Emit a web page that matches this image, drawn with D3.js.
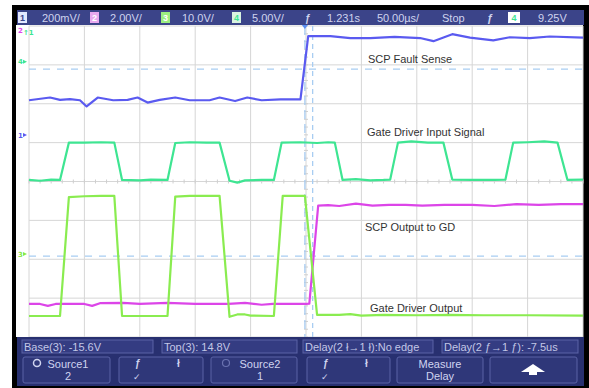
<!DOCTYPE html>
<html><head><meta charset="utf-8">
<script src="https://cdn.jsdelivr.net/npm/d3@7"></script>
<style>body{margin:0;background:#fff}svg{display:block}</style>
</head><body>
<script>
// time in µs (50 µs/div, trigger at centre), amplitude in screen divisions
const timeDomain = [-250, 250];
const divDomain = [-4, 4];
const timeTicks = d3.range(-250, 251, 50);
const divTicks = d3.range(-4, 5, 1);

const ch1FaultSense = [[-250,2.09],[-231,2.16],[-222,2.1],[-213,2.12],[-204,2.09],[-198,1.93],[-188,2.16],[-174,2.09],[-161,2.1],[-152,2.16],[-143,2.03],[-132,2.1],[-118,2.16],[-105,2.09],[-87,2.09],[-78,2.16],[-64,2.07],[-53,2.16],[-40,2.09],[-23,2.11],[-5,2.11],[2,3.74],[22,3.74],[40,3.69],[58,3.69],[80,3.72],[103,3.69],[115,3.61],[132,3.79],[148,3.7],[169,3.63],[184,3.71],[202,3.69],[220,3.73],[250,3.7]];
const ch4GateInput = [[-250,0.04],[-240,0.02],[-230,0.05],[-222,0.04],[-214,1.0],[-200,1.0],[-185,1.01],[-173,1.0],[-166,0.04],[-150,0.03],[-140,0.05],[-125,0.04],[-118,0.99],[-105,1.01],[-90,1.0],[-78,1.0],[-69,0.02],[-62,-0.03],[-55,0.03],[-40,0.04],[-29,0.04],[-22,1.0],[-5,1.01],[10,0.99],[20,1.01],[26,1.0],[33,0.04],[45,0.06],[58,0.03],[70,0.04],[76,0.05],[83,1.0],[95,1.03],[110,1.0],[124,1.0],[132,0.05],[150,0.04],[170,0.04],[180,0.05],[187,1.0],[200,1.01],[215,1.03],[227,1.0],[236,0.04],[250,0.05]];
const ch3GateOutput = [[-250,-3.46],[-222,-3.46],[-214,-0.4],[-200,-0.38],[-185,-0.37],[-173,-0.37],[-166,-3.46],[-140,-3.46],[-125,-3.46],[-118,-0.39],[-105,-0.37],[-90,-0.37],[-78,-0.37],[-69,-3.48],[-62,-3.42],[-55,-3.42],[-50,-3.45],[-29,-3.46],[-21,-0.37],[-10,-0.37],[-1,-0.37],[10,-3.43],[30,-3.43],[40,-3.41],[50,-3.45],[70,-3.43],[100,-3.44],[130,-3.43],[160,-3.44],[200,-3.44],[250,-3.45]];
const ch2ScpOutput = [[-250,-3.15],[-240,-3.15],[-233,-3.2],[-226,-3.15],[-200,-3.15],[-193,-3.2],[-186,-3.13],[-165,-3.12],[-150,-3.15],[-125,-3.12],[-100,-3.15],[-70,-3.15],[-55,-3.12],[-40,-3.17],[-30,-3.15],[0,-3.15],[3,-3.14],[11,-0.62],[20,-0.61],[30,-0.63],[45,-0.57],[60,-0.62],[75,-0.6],[90,-0.6],[105,-0.62],[125,-0.6],[150,-0.6],[170,-0.63],[190,-0.58],[210,-0.6],[230,-0.58],[250,-0.58]];
const refLevels = [2.89, -1.92];
const cursorTimes = [-1, 6];

const traceLabels = ["SCP Fault Sense","Gate Driver Input Signal","SCP Output to GD","Gate Driver Output"];
const headerTexts = ["200mV/","2.00V/","10.0V/","5.00V/","1.231s","50.00µs/","Stop","9.25V"];
const measureTexts = ["Base(3): -15.6V","Top(3): 14.8V","Delay(2 ł→1 ł):No edge","Delay(2 ƒ→1 ƒ): -7.5us"];

const W = 589, H = 388;
const svg = d3.select("body").append("svg").attr("width", W).attr("height", H);
const x = d3.scaleLinear().domain(timeDomain).range([29, 583]);
const y = d3.scaleLinear().domain(divDomain).range([337, 26]);

// frame
svg.append("rect").attr("x",12).attr("y",5).attr("width",577).attr("height",383).attr("fill","#000");
svg.append("rect").attr("x",16).attr("y",25).attr("width",567).attr("height",312).attr("fill","#fff");

// grid
const g = svg.append("g");
g.selectAll(".vg").data(timeTicks).join("line")
 .attr("x1",d=>x(d)).attr("x2",d=>x(d)).attr("y1",y(4)).attr("y2",y(-4))
 .attr("stroke","#d6d6d6").attr("stroke-width",1);
g.selectAll(".hg").data(divTicks).join("line")
 .attr("x1",x(-250)).attr("x2",x(250)).attr("y1",d=>y(d)).attr("y2",d=>y(d))
 .attr("stroke","#d6d6d6").attr("stroke-width",1);
const minorT = d3.range(-250, 250.1, 10);
g.selectAll(".mt").data(minorT).join("line")
 .attr("x1",d=>x(d)).attr("x2",d=>x(d)).attr("y1",y(0)-2).attr("y2",y(0)+2)
 .attr("stroke","#cfcfcf");
const minorD = d3.range(-4, 4.01, 0.2);
g.selectAll(".md").data(minorD).join("line")
 .attr("x1",x(0)-2).attr("x2",x(0)+2).attr("y1",d=>y(d)).attr("y2",d=>y(d))
 .attr("stroke","#cfcfcf");

// reference dashed lines
g.selectAll(".rl").data(refLevels).join("line")
 .attr("x1",x(-250)).attr("x2",x(250)).attr("y1",d=>y(d)).attr("y2",d=>y(d))
 .attr("stroke","#a8cdf2").attr("stroke-width",1.3).attr("stroke-dasharray","7,7");
g.selectAll(".cl").data(cursorTimes).join("line")
 .attr("x1",d=>x(d)).attr("x2",d=>x(d)).attr("y1",y(4)).attr("y2",y(-4))
 .attr("stroke","#a8cdf2").attr("stroke-width",1.3).attr("stroke-dasharray",(d,i)=>i?"5,4":"9,5");

// traces
const line = d3.line().x(d=>x(d[0])).y(d=>y(d[1]));
const traces = [
  {data:ch2ScpOutput, color:"#dc45e8"},
  {data:ch3GateOutput, color:"#8aec50"},
  {data:ch4GateInput, color:"#3ee592"},
  {data:ch1FaultSense, color:"#5a5af0"}
];
svg.selectAll(".tr").data(traces).join("path")
 .attr("d",d=>line(d.data)).attr("fill","none").attr("stroke",d=>d.color)
 .attr("stroke-width",2.2).attr("stroke-linejoin","round");

// trace labels
const labelPos = [[368,63],[367,136],[365,231],[370,312]];
svg.selectAll(".lb").data(traceLabels).join("text")
 .attr("x",(d,i)=>labelPos[i][0]).attr("y",(d,i)=>labelPos[i][1])
 .attr("font-family","Liberation Sans, Arial, sans-serif").attr("font-size",11)
 .attr("fill","#333").text(d=>d);

// channel markers on left
const mk = svg.append("g").attr("font-family","DejaVu Sans, sans-serif").attr("font-size",7).attr("font-weight","bold");
mk.append("text").attr("x",18).attr("y",33).attr("fill","#dd44ee").text("2");
mk.append("text").attr("x",23).attr("y",35).attr("fill","#3ee592").text("↑1");
mk.append("text").attr("x",18).attr("y",64).attr("fill","#3ee592").text("4");
mk.append("path").attr("d",`M23,${y(3.08)-2}L27,${y(3.08)}L23,${y(3.08)+2}Z`).attr("fill","#3ee592");
mk.append("text").attr("x",18).attr("y",138).attr("fill","#5a5af0").text("1");
mk.append("path").attr("d",`M23,133L27,135L23,137Z`).attr("fill","#5a5af0");
mk.append("text").attr("x",18).attr("y",257).attr("fill","#86ea48").text("3");
mk.append("path").attr("d",`M23,252L27,254L23,256Z`).attr("fill","#86ea48");

// header
svg.append("rect").attr("x",17).attr("y",10).attr("width",567).attr("height",15).attr("fill","#3b4489");
const hdr = svg.append("g").attr("font-family","Liberation Sans, Arial, sans-serif").attr("font-size",11).attr("fill","#cfd3ee");
const boxes = [[18,"1","#e2e8ff","#3b4489"],[90,"2","#e7a8ee","#fff"],[161,"3","#9cee80","#fff"],[232,"4","#d8f3e0","#3ee592"]];
boxes.forEach(b=>{
  hdr.append("rect").attr("x",b[0]).attr("y",12).attr("width",9).attr("height",11).attr("fill",b[2]);
  hdr.append("text").attr("x",b[0]+4.5).attr("y",21).attr("text-anchor","middle").attr("font-size",9).attr("font-weight","bold").attr("fill",b[3]).text(b[1]);
});
const hx = [42,110,182,252,327,377,442,538];
headerTexts.forEach((t,i)=>hdr.append("text").attr("x",hx[i]).attr("y",21.5)
  .attr("textLength", i===5 ? 42 : null).text(t));
hdr.append("text").attr("x",305).attr("y",22).attr("font-weight","bold").attr("font-size",10).text("ƒ");
hdr.append("text").attr("x",487).attr("y",21.5).attr("font-weight","bold").text("ƒ");
hdr.append("rect").attr("x",508).attr("y",12).attr("width",12).attr("height",11).attr("fill","#fff");
hdr.append("text").attr("x",514).attr("y",21).attr("text-anchor","middle").attr("font-size",9).attr("font-weight","bold").attr("fill","#3ee592").text("4");
svg.append("path").attr("d",`M${x(-1)-3},25L${x(-1)+3},25L${x(-1)},29Z`).attr("fill","#5a8ef0");

// bottom panel
svg.append("rect").attr("x",17).attr("y",337).attr("width",567).attr("height",49).attr("fill","#283070");
const bp = svg.append("g").attr("font-family","Liberation Sans, Arial, sans-serif").attr("fill","#c3c7e6");
const mBoxes = [[22,153],[162,297],[303,433],[442,578]];
mBoxes.forEach((b,i)=>{
  bp.append("rect").attr("x",b[0]).attr("y",340).attr("width",b[1]-b[0]).attr("height",13)
    .attr("fill","#343c82").attr("stroke","#5b63a6").attr("stroke-width",1);
  bp.append("text").attr("x",b[0]+2).attr("y",350.5).attr("font-size",11).text(measureTexts[i]);
});
const btns = [[23,110],[119,203],[211,297],[307,390],[397,483],[490,577]];
btns.forEach(b=>{
  bp.append("rect").attr("x",b[0]).attr("y",357).attr("width",b[1]-b[0]).attr("height",26).attr("rx",2)
    .attr("fill","#2f3779").attr("stroke","#5b63a6").attr("stroke-width",1);
});
function twoLine(cx, l1, l2, col){
  bp.append("text").attr("x",cx).attr("y",367.5).attr("text-anchor","middle").attr("font-size",11).attr("fill",col||"#d0d4f0").text(l1);
  bp.append("text").attr("x",cx).attr("y",379.5).attr("text-anchor","middle").attr("font-size",11).attr("fill",col||"#d0d4f0").text(l2);
}
twoLine(68,"Source1","2");
twoLine(260,"Source2","1");
twoLine(440,"Measure","Delay");
bp.append("circle").attr("cx",37).attr("cy",363).attr("r",3.5).attr("fill","none").attr("stroke","#d0d4f0").attr("stroke-width",1.5);
bp.append("circle").attr("cx",226).attr("cy",363).attr("r",3.5).attr("fill","none").attr("stroke","#6a72b0").attr("stroke-width",1.2);
[[119,203],[307,390]].forEach(b=>{
  bp.append("text").attr("x",b[0]+16).attr("y",367).attr("font-size",10).attr("font-weight","bold").attr("fill","#d0d4f0").text("ƒ");
  bp.append("text").attr("x",b[0]+58).attr("y",367).attr("font-size",10).attr("font-weight","bold").attr("fill","#d0d4f0").text("ł");
  bp.append("text").attr("x",b[0]+14).attr("y",380).attr("font-size",9).attr("fill","#d0d4f0").text("✓");
});
bp.append("path").attr("d","M521,372L533,364L545,372L537,372L537,375L529,375L529,372Z").attr("fill","#fff");
</script>
</body></html>
